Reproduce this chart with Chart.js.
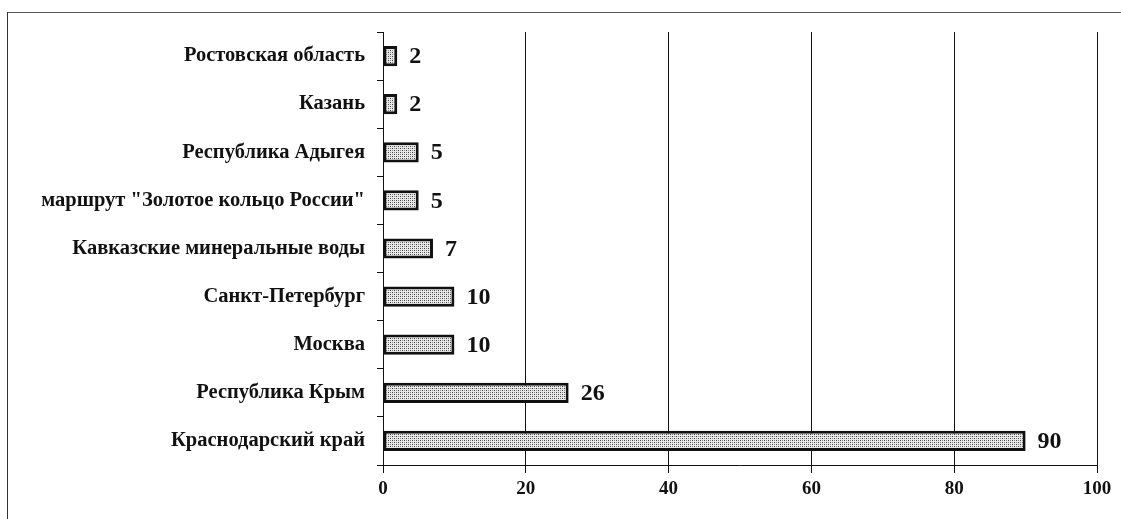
<!DOCTYPE html>
<html>
<head>
<meta charset="utf-8">
<script src="https://cdn.jsdelivr.net/npm/chart.js@4/dist/chart.umd.min.js"></script>
<style>
  html, body { margin: 0; padding: 0; background: #fff; }
  #wrap { position: relative; width: 1121px; height: 519px; overflow: hidden; }
  #frame { position: absolute; left: 7px; top: 12px; width: 1130px; height: 520px;
           border-left: 1.5px solid #333; border-top: 1.5px solid #555; box-sizing: border-box; }
  canvas { position: absolute; left: 0; top: 0; }
</style>
</head>
<body>
<div id="wrap">
  <div id="frame"></div>
  <canvas id="c" width="1121" height="519"></canvas>
</div>
<script>
const categories = [
  'Ростовская область',
  'Казань',
  'Республика Адыгея',
  'маршрут "Золотое кольцо России"',
  'Кавказские минеральные воды',
  'Санкт-Петербург',
  'Москва',
  'Республика Крым',
  'Краснодарский край'
];
const values = [2, 2, 5, 5, 7, 10, 10, 26, 90];
const xTicks = [0, 20, 40, 60, 80, 100];

function makePattern() {
  const p = document.createElement('canvas');
  p.width = 4; p.height = 4;
  const g = p.getContext('2d');
  g.fillStyle = '#e8e8e8';
  g.fillRect(0, 0, 4, 4);
  g.fillStyle = '#444444';
  g.fillRect(0, 0, 1, 1);
  g.fillRect(2, 2, 1, 1);
  g.fillStyle = '#8a8a8a';
  g.fillRect(2, 0, 1, 1);
  g.fillRect(0, 2, 1, 1);
  return document.getElementById('c').getContext('2d').createPattern(p, 'repeat');
}

const valueLabels = {
  id: 'valueLabels',
  afterDatasetsDraw(chart) {
    const ctx = chart.ctx;
    const meta = chart.getDatasetMeta(0);
    ctx.save();
    ctx.font = 'bold 24px "Liberation Serif", "Times New Roman", serif';
    ctx.fillStyle = '#111';
    ctx.textAlign = 'left';
    ctx.textBaseline = 'middle';
    meta.data.forEach((bar, i) => {
      ctx.fillText(String(values[i]), bar.x + 12, bar.y + 1);
    });
    ctx.restore();
  }
};

new Chart(document.getElementById('c'), {
  type: 'bar',
  data: {
    labels: categories,
    datasets: [{
      data: values,
      backgroundColor: makePattern(),
      borderColor: '#111',
      borderWidth: 3,
      borderSkipped: false,
      barPercentage: 0.42,
      categoryPercentage: 1.0
    }]
  },
  options: {
    indexAxis: 'y',
    responsive: false,
    animation: false,
    layout: { padding: { top: 32, right: 24, bottom: 0, left: 0 } },
    plugins: { legend: { display: false }, tooltip: { enabled: false } },
    scales: {
      x: {
        min: 0, max: 100,
        afterBuildTicks(scale) { scale.ticks = xTicks.map(v => ({ value: v })); },
        afterFit(scale) { scale.height = 54; },
        grid: { color: '#111', lineWidth: 1, tickLength: 8, drawTicks: true },
        border: { color: '#111', width: 1 },
        ticks: {
          color: '#111', padding: 5,
          font: { family: '"Liberation Serif", "Times New Roman", serif', size: 19, weight: 'bold' }
        }
      },
      y: {
        afterFit(scale) { scale.width = 383; },
        grid: { drawOnChartArea: false, color: '#111', tickLength: 6, offset: true },
        border: { color: '#111', width: 1 },
        ticks: {
          color: '#111', padding: 12,
          font: { family: '"Liberation Serif", "Times New Roman", serif', size: 20.5, weight: 'bold' }
        }
      }
    }
  },
  plugins: [valueLabels]
});
</script>
</body>
</html>
